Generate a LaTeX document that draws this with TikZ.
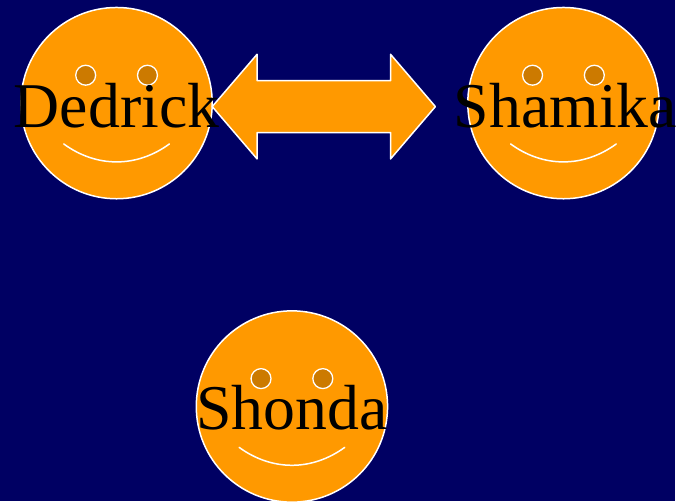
\documentclass[tikz,border=0pt]{standalone}
\usepackage{fontspec}
\setmainfont{Liberation Serif}
\usetikzlibrary{calc}
\definecolor{navy}{HTML}{000063}
\definecolor{smileorange}{HTML}{FF9900}
\definecolor{eyebrown}{HTML}{CC7A00}
\begin{document}
\begin{tikzpicture}[x=1pt, y=-1pt, line join=round, line cap=round,
	declare function={h=112; k=45; s=26; w=52.5;},
	face/.style={circle, draw=white, line width=1.5pt, fill=smileorange, minimum size=192pt, inner sep=0pt},
	eye/.style={draw=white, line width=1.3pt, fill=eyebrown},
	smile/.style={draw=white, line width=1.5pt},
	facename/.style={anchor=base, inner sep=0pt, font=\fontsize{64}{64}\selectfont}]
	\fill[navy] (0,0) rectangle (677,503);
	\node[face] (dedrick) at (117,103.5) {};
	\node[face] (shamika) at (565.5,103.5) {};
	\node[face] (shonda) at (293,408) {};
	\foreach \f in {dedrick,shamika,shonda}{
	\draw[eye] ($(\f)+(-31,-28)$) circle (10pt);
	\draw[eye] ($(\f)+(31,-28)$) circle (10pt);
	\draw[smile] ($(\f)+(-53,41)$) .. controls ($(\f)+(-20,65)$) and ($(\f)+(20,65)$) .. ($(\f)+(53,41)$);
}
	\path 
	(325,107) coordinate (M)
	(325-h,107) coordinate (L)
	(325+h,107) coordinate (R)
	;
	\draw[white, line width=1.5pt, fill=smileorange] (L)--($(L)+(k,-w)$)--($(L)+(k,-s)$)--($(R)+(-k,-s)$)--($(R)+(-k,-w)$)--(R)
	--($(R)+(-k,w)$)--($(R)+(-k,s)$)--($(L)+(k,s)$)--($(L)+(k,w)$)--cycle;
	\node[facename] (dedrickname) at ($(dedrick)+(0,24.5)$) {Dedrick};
	\node[facename] (shamikaname) at ($(shamika)+(2,24.5)$) {Shamika};
	\node[facename] (shondaname) at ($(shonda)+(0,23)$) {Shonda};
	\end{tikzpicture}
\end{document}
